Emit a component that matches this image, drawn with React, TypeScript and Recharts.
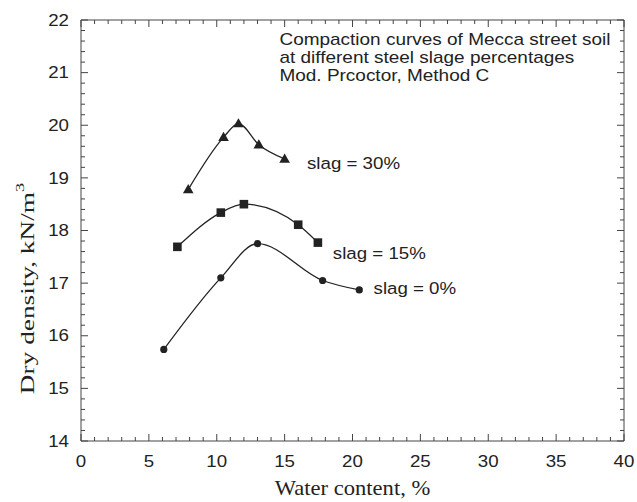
import React from 'react';
import { ScatterChart, Scatter, XAxis, YAxis, ReferenceDot } from 'recharts';

// Water content (%) vs dry density (kN/m3)
const slag0 = [
  { x: 6.1, y: 15.74 },
  { x: 10.3, y: 17.1 },
  { x: 13.0, y: 17.75 },
  { x: 17.8, y: 17.05 },
  { x: 20.5, y: 16.87 },
];
const slag15 = [
  { x: 7.1, y: 17.69 },
  { x: 10.3, y: 18.34 },
  { x: 12.0, y: 18.5 },
  { x: 16.0, y: 18.11 },
  { x: 17.45, y: 17.77 },
];
const slag30 = [
  { x: 7.9, y: 18.78 },
  { x: 10.5, y: 19.77 },
  { x: 11.6, y: 20.03 },
  { x: 13.1, y: 19.63 },
  { x: 15.0, y: 19.36 },
];

const xDomain = [0, 40];
const yDomain = [14, 22];
const xMajor = [0, 5, 10, 15, 20, 25, 30, 35, 40];
const yMajor = [14, 15, 16, 17, 18, 19, 20, 21, 22];
const xTicks = Array.from({ length: 41 }, (_, i) => i);
const yTicks = Array.from({ length: 41 }, (_, i) => Math.round((14 + i * 0.2) * 10) / 10);

const titleLines = [
  'Compaction curves of Mecca street soil',
  'at different steel slage percentages',
  'Mod. Prcoctor, Method C',
];
const seriesLabels = ['slag = 0%', 'slag = 15%', 'slag = 30%'];
const xLabel = 'Water content, %';
const yLabel = 'Dry density, kN/m';

// layout
const CHART_W = 637;
const CHART_H = 502;
const MARGIN = { top: 20, right: 13, bottom: 0, left: 0 };
const YAXIS_W = 81;
const XAXIS_H = 61;
const PLOT_X = MARGIN.left + YAXIS_W;
const PLOT_Y = MARGIN.top;
const PLOT_W = CHART_W - MARGIN.left - MARGIN.right - YAXIS_W;
const PLOT_H = CHART_H - MARGIN.top - MARGIN.bottom - XAXIS_H;

const SANS = "'Liberation Sans', Arial, sans-serif";
const SERIF = "'Liberation Serif', 'Times New Roman', serif";
const FRAME = '#444';
const INK = '#222';
const SX = 1.1;

const isMajorX = (v: number) => xMajor.includes(v);
const isMajorY = (v: number) => yMajor.some((m) => Math.abs(m - v) < 1e-6);

const BottomTick = (p: any) => {
  const v = p.payload.value;
  const major = isMajorX(v);
  const len = major ? 7 : 4;
  return (
    <g>
      <line x1={p.x} x2={p.x} y1={p.y} y2={p.y - len} stroke={FRAME} strokeWidth={1} />
      {major && (
        <text transform={`translate(${p.x}, ${p.y + 20}) scale(${SX}, 1)`} x={0} y={0} textAnchor="middle" dominantBaseline="central" fontFamily={SANS} fontSize={17} fill={INK}>
          {v}
        </text>
      )}
    </g>
  );
};
const LeftTick = (p: any) => {
  const v = p.payload.value;
  const major = isMajorY(v);
  const len = major ? 7 : 4;
  return (
    <g>
      <line x1={p.x} x2={p.x + len} y1={p.y} y2={p.y} stroke={FRAME} strokeWidth={1} />
      {major && (
        <text transform={`translate(${p.x - 12}, ${p.y}) scale(${SX}, 1)`} x={0} y={0} textAnchor="end" dominantBaseline="central" fontFamily={SANS} fontSize={17} fill={INK}>
          {v}
        </text>
      )}
    </g>
  );
};

// top and right frame edges with inward ticks, drawn in an overlay aligned with the plot area
const FrameOverlay = () => {
  const sx = (v: number) => PLOT_X + ((v - xDomain[0]) / (xDomain[1] - xDomain[0])) * PLOT_W;
  const sy = (v: number) => PLOT_Y + ((yDomain[1] - v) / (yDomain[1] - yDomain[0])) * PLOT_H;
  const right = PLOT_X + PLOT_W;
  return (
    <svg
      width={CHART_W}
      height={CHART_H}
      style={{ position: 'absolute', left: 0, top: 0, pointerEvents: 'none', overflow: 'visible' }}
    >
      <line x1={PLOT_X} x2={right} y1={PLOT_Y} y2={PLOT_Y} stroke={FRAME} strokeWidth={1} />
      <line x1={right} x2={right} y1={PLOT_Y} y2={PLOT_Y + PLOT_H} stroke={FRAME} strokeWidth={1} />
      {xTicks.map((v) => (
        <line key={`t${v}`} x1={sx(v)} x2={sx(v)} y1={PLOT_Y} y2={PLOT_Y + (isMajorX(v) ? 7 : 4)} stroke={FRAME} strokeWidth={1} />
      ))}
      {yTicks.map((v) => (
        <line key={`r${v}`} x1={right} x2={right - (isMajorY(v) ? 7 : 4)} y1={sy(v)} y2={sy(v)} stroke={FRAME} strokeWidth={1} />
      ))}
    </svg>
  );
};

const Dot = (p: any) => <circle cx={p.cx} cy={p.cy} r={3.6} fill={INK} />;
const Square = (p: any) => <rect x={p.cx - 4.3} y={p.cy - 4.3} width={8.6} height={8.6} fill={INK} />;
const Tri = (p: any) => (
  <polygon points={`${p.cx},${p.cy - 5.5} ${p.cx + 5.3},${p.cy + 3.7} ${p.cx - 5.3},${p.cy + 3.7}`} fill={INK} />
);

const TextLabel = (text: string, size = 17, sx = SX) => (props: any) => {
  const vb = props.viewBox || {};
  return (
    <text transform={`translate(${vb.x}, ${vb.y}) scale(${sx}, 1)`} x={0} y={0} textAnchor="start" dominantBaseline="central" fontFamily={SANS} fontSize={size} fill={INK}>
      {text}
    </text>
  );
};

const XTitle = (props: any) => {
  const vb = props.viewBox;
  const cx = vb.x + vb.width / 2;
  const cy = vb.y + 47;
  return (
    <text transform={`translate(${cx}, ${cy}) scale(1.13, 1)`} x={0} y={0} textAnchor="middle" dominantBaseline="central" fontFamily={SERIF} fontSize={20} fill={INK}>
      {xLabel}
    </text>
  );
};
const YTitle = (props: any) => {
  const vb = props.viewBox;
  const cx = vb.x + 27;
  const cy = vb.y + vb.height / 2 + 58;
  return (
    <text transform={`translate(${cx}, ${cy}) rotate(-90) scale(1.4, 1)`} x={0} y={0} textAnchor="middle" dominantBaseline="central" fontFamily={SERIF} fontSize={19.5} fill={INK}>
      {yLabel}
      <tspan fontSize={13} dy={-8}>3</tspan>
    </text>
  );
};

export default function App() {
  return (
    <div style={{ position: 'relative', width: CHART_W, height: CHART_H }}>
      <style>{`body{margin:0}`}</style>
      <ScatterChart width={CHART_W} height={CHART_H} margin={MARGIN}>
        <XAxis
          type="number"
          dataKey="x"
          domain={xDomain}
          ticks={xTicks}
          interval={0}
          tickSize={0}
          tickMargin={0}
          tick={BottomTick}
          tickLine={false}
          axisLine={{ stroke: FRAME }}
          height={XAXIS_H}
          label={{ content: XTitle }}
        />
        <YAxis
          type="number"
          dataKey="y"
          domain={yDomain}
          ticks={yTicks}
          interval={0}
          tickSize={0}
          tickMargin={0}
          tick={LeftTick}
          tickLine={false}
          axisLine={{ stroke: FRAME }}
          width={YAXIS_W}
          label={{ content: YTitle }}
        />
        <Scatter data={slag0} shape={Dot} line={{ stroke: INK, strokeWidth: 1.3 }} lineJointType="monotoneX" isAnimationActive={false} />
        <Scatter data={slag15} shape={Square} line={{ stroke: INK, strokeWidth: 1.3 }} lineJointType="monotoneX" isAnimationActive={false} />
        <Scatter data={slag30} shape={Tri} line={{ stroke: INK, strokeWidth: 1.3 }} lineJointType="monotoneX" isAnimationActive={false} />
        <ReferenceDot x={21.55} y={16.9} r={0} label={{ content: TextLabel(seriesLabels[0]) }} />
        <ReferenceDot x={18.55} y={17.56} r={0} label={{ content: TextLabel(seriesLabels[1]) }} />
        <ReferenceDot x={16.65} y={19.28} r={0} label={{ content: TextLabel(seriesLabels[2]) }} />
        <ReferenceDot x={14.62} y={21.63} r={0} label={{ content: TextLabel(titleLines[0], 16.8, 1.13) }} />
        <ReferenceDot x={14.62} y={21.29} r={0} label={{ content: TextLabel(titleLines[1], 16.8, 1.13) }} />
        <ReferenceDot x={14.62} y={20.95} r={0} label={{ content: TextLabel(titleLines[2], 16.8, 1.13) }} />
      </ScatterChart>
      <FrameOverlay />
    </div>
  );
}
